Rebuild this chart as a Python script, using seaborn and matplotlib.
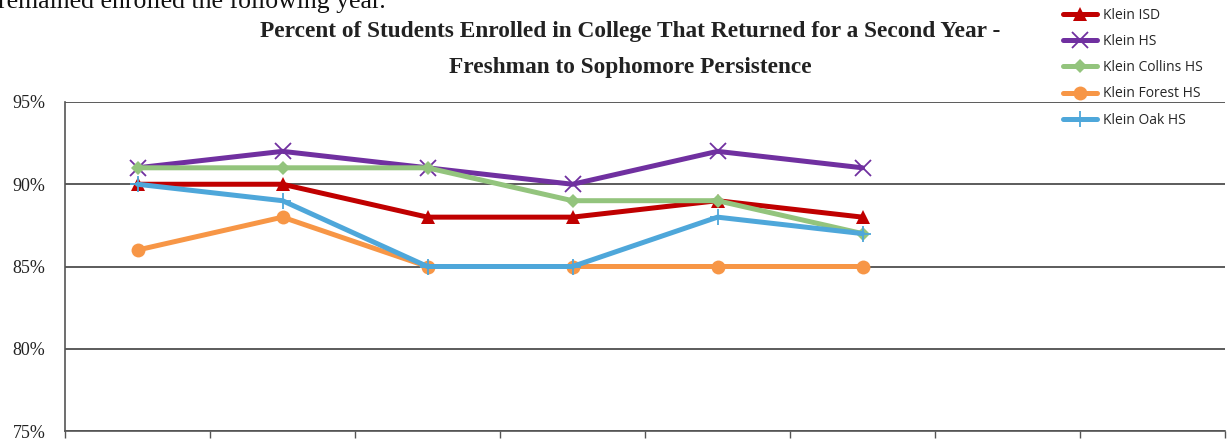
import matplotlib
matplotlib.use("Agg")
import matplotlib.pyplot as plt
import pandas as pd
import seaborn as sns

# Data (8 year slots, only 6 filled)
years = [0, 1, 2, 3, 4, 5]
klein_isd = [90, 90, 88, 88, 89, 88]
klein_hs = [91, 92, 91, 90, 92, 91]
klein_collins = [91, 91, 91, 89, 89, 87]
klein_forest = [86, 88, 85, 85, 85, 85]
klein_oak = [90, 89, 85, 85, 88, 87]
n_slots = 8

series = {
    "Klein ISD": klein_isd,
    "Klein HS": klein_hs,
    "Klein Collins HS": klein_collins,
    "Klein Forest HS": klein_forest,
    "Klein Oak HS": klein_oak,
}
colors = {
    "Klein ISD": "#C00000",
    "Klein HS": "#7030A0",
    "Klein Collins HS": "#93C47D",
    "Klein Forest HS": "#F79646",
    "Klein Oak HS": "#4EA7DA",
}
markers = {
    "Klein ISD": "^",
    "Klein HS": "x",
    "Klein Collins HS": "D",
    "Klein Forest HS": "o",
    "Klein Oak HS": "+",
}
msizes = {"Klein ISD": 10, "Klein HS": 11, "Klein Collins HS": 7.5,
          "Klein Forest HS": 10, "Klein Oak HS": 12}

sns.set_style("white")

fig = plt.figure(figsize=(12.3, 4.43), dpi=100)
ax = fig.add_axes([65 / 1230, 12 / 443, 1160 / 1230, 329 / 443])

for name, vals in series.items():
    df = pd.DataFrame({"slot": years, "pct": vals})
    sns.lineplot(data=df, x="slot", y="pct", ax=ax, color=colors[name],
                 marker=markers[name], markersize=msizes[name], linewidth=3.6,
                 markeredgewidth=1.3 if markers[name] in "x+" else 0,
                 markeredgecolor=colors[name], label=name)

ax.set_xlim(-0.5, n_slots - 0.5)
ax.set_ylim(75, 95)
ax.set_yticks([75, 80, 85, 90, 95])
ax.set_yticklabels(["75%", "80%", "85%", "90%", "95%"],
                   fontfamily="Liberation Serif", fontsize=13, color="#222222")
ax.set_xticks([i - 0.5 for i in range(n_slots + 1)])
ax.set_xticklabels([])
ax.tick_params(axis="y", length=0, pad=14)
ax.tick_params(axis="x", length=5, width=1, color="#555555", direction="out", bottom=True)
ax.grid(axis="y", color="#404040", linewidth=1.2)
ax.set_xlabel("")
ax.set_ylabel("")
for side in ["top", "right"]:
    ax.spines[side].set_visible(False)
for side in ["left", "bottom"]:
    ax.spines[side].set_color("#555555")
    ax.spines[side].set_linewidth(1.2)

# legend placed up in the top-right corner, no frame
handles, labels = ax.get_legend_handles_labels()
ax.legend_.remove()
fig.legend(handles, labels, loc="upper left", bbox_to_anchor=(1050 / 1230, 1.01),
           frameon=False, prop={"family": "Open Sans", "size": 10},
           handlelength=2.5, handletextpad=0.4, labelspacing=0.8)

fig.text(630 / 1230, 1 - 32 / 443,
         "Percent of Students Enrolled in College That Returned for a Second Year -",
         ha="center", va="center", fontfamily="Liberation Serif",
         fontweight="bold", fontsize=16.8, color="#222222")
fig.text(630 / 1230, 1 - 67 / 443, "Freshman to Sophomore Persistence",
         ha="center", va="center", fontfamily="Liberation Serif",
         fontweight="bold", fontsize=16.8, color="#222222")
# cut-off line of body text above the chart
fig.text(-2 / 1230, 1 - 2 / 443, "remained enrolled the following year.",
         ha="left", va="center", fontfamily="Liberation Serif",
         fontsize=18.5, color="#111111")

fig.savefig("out.png", dpi=100)
